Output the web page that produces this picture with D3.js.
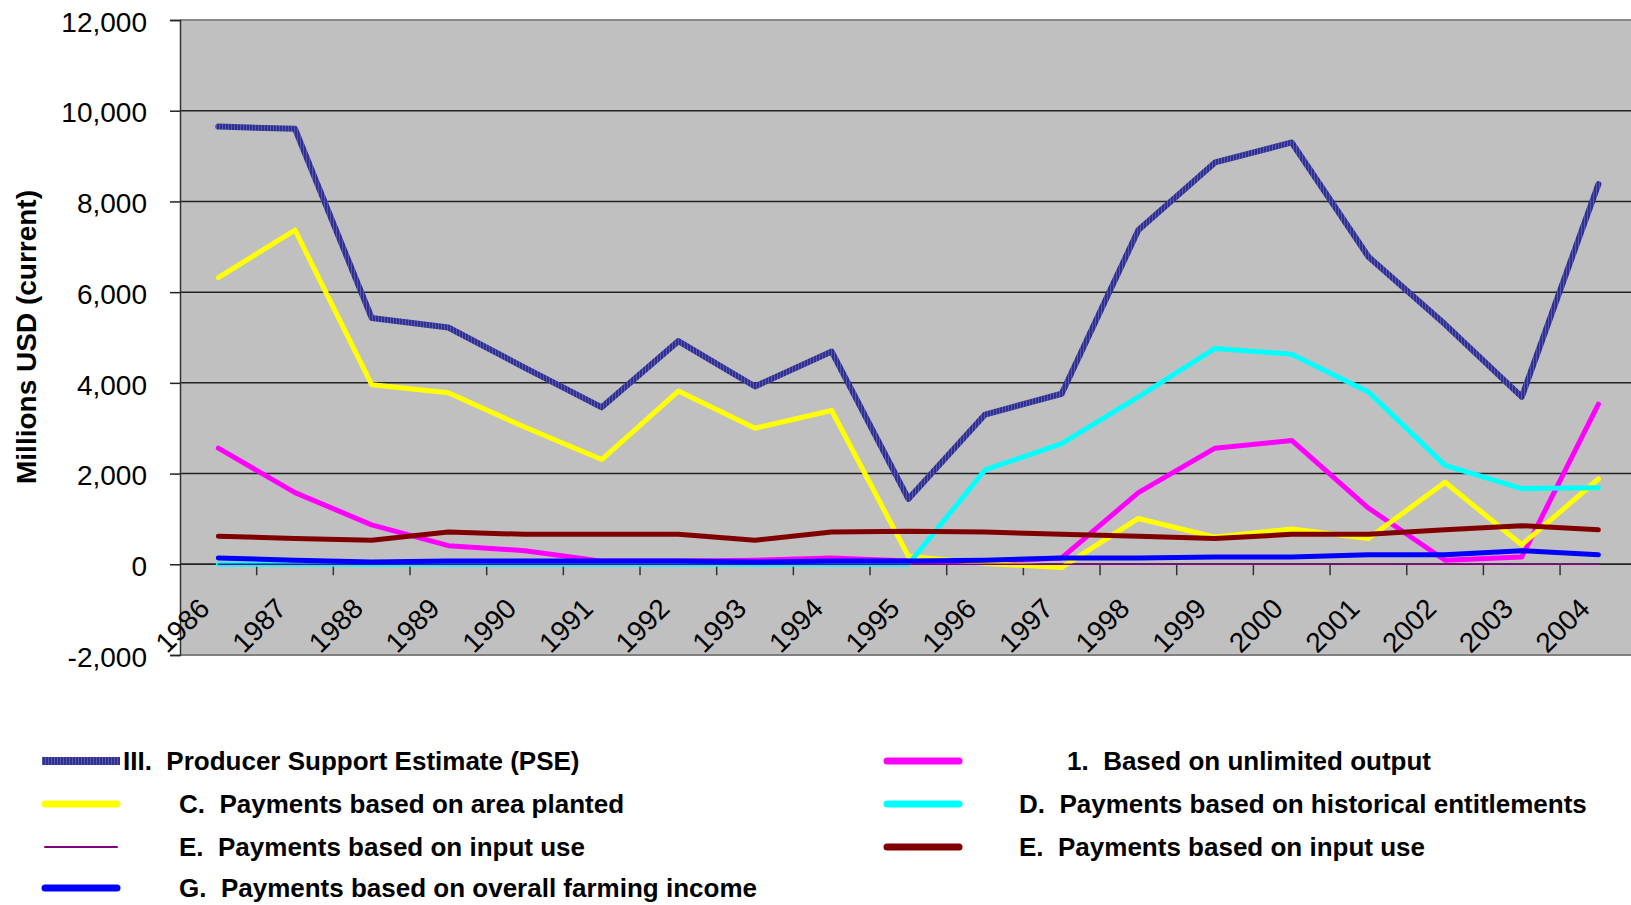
<!DOCTYPE html>
<html>
<head>
<meta charset="utf-8">
<script src="https://cdn.jsdelivr.net/npm/d3@7/dist/d3.min.js"></script>
<style>
  body { margin: 0; background: #ffffff; }
  text { font-family: "Liberation Sans", Arial, sans-serif; }
</style>
</head>
<body>
<div class="main"></div>
<script>
// categories
let years = ["1986","1987","1988","1989","1990","1991","1992","1993","1994","1995",
             "1996","1997","1998","1999","2000","2001","2002","2003","2004"];

// series values, millions USD
let pse       = [9650, 9600, 5430, 5220, 4330, 3460, 4920, 3920, 4690, 1440,
                 3300, 3760, 7370, 8860, 9300, 6780, 5290, 3690, 8380];
let unlimited = [2560, 1580, 870, 410, 300, 70, 70, 90, 140, 70,
                 50, 140, 1580, 2560, 2730, 1240, 90, 160, 3530];
let areaPlanted = [6320, 7370, 3960, 3780, 3020, 2310, 3820, 3000, 3390, 180,
                   20, -70, 1010, 600, 780, 570, 1810, 430, 1880];
let historical = [0, 0, 0, 0, 0, 0, 0, 0, 0, 0,
                  2080, 2660, 3690, 4760, 4630, 3800, 2180, 1670, 1690];
let inputUseA  = [0, 0, 0, 0, 0, 0, 0, 0, 0, 0,
                  0, 0, 0, 0, 0, 0, 0, 0, 0];
let inputUseB  = [620, 570, 530, 710, 660, 660, 660, 530, 710, 730,
                  710, 660, 620, 570, 660, 660, 760, 850, 760];
let farmIncome = [140, 90, 50, 70, 70, 70, 70, 50, 70, 70,
                  90, 140, 140, 160, 160, 210, 210, 300, 210];

// y tick values
let yTicks = [-2000, 0, 2000, 4000, 6000, 8000, 10000, 12000];

let seriesNames = [
  "III.  Producer Support Estimate (PSE)",
  "1.  Based on unlimited output",
  "C.  Payments based on area planted",
  "D.  Payments based on historical entitlements",
  "E.  Payments based on input use",
  "E.  Payments based on input use",
  "G.  Payments based on overall farming income"
];

let width = 1631, height = 905;

let svg = d3.select("div.main").append("svg")
  .attr("width", width)
  .attr("height", height);

// PSE line texture
let defs = svg.append("defs");
let pat = defs.append("pattern")
  .attr("id", "pseTex")
  .attr("patternUnits", "userSpaceOnUse")
  .attr("width", 3)
  .attr("height", 3);
pat.append("rect").attr("width", 3).attr("height", 3).attr("fill", "#30308f");
pat.append("rect").attr("width", 1).attr("height", 3).attr("fill", "#5656b4");

let plotLeft = 180, plotTop = 20, plotBottom = 655;
let step = 76.67;
let plotRight = plotLeft + step * years.length;

defs.append("clipPath").attr("id", "plotClip")
  .append("rect")
  .attr("x", plotLeft).attr("y", plotTop)
  .attr("width", plotRight - plotLeft).attr("height", plotBottom - plotTop);

let x = d3.scaleBand().domain(years).range([plotLeft, plotRight]).padding(0);
let y = d3.scaleLinear().domain([-2000, 12000]).range([plotBottom, plotTop]);
let cx = function(d) { return x(d) + x.bandwidth() / 2; };

// plot area
svg.append("rect")
  .attr("x", plotLeft).attr("y", plotTop)
  .attr("width", plotRight - plotLeft).attr("height", plotBottom - plotTop)
  .attr("fill", "#c0c0c0");

// gridlines
svg.selectAll("line.grid")
  .data(yTicks.filter(function(t) { return t > -2000 && t < 12000; }))
  .enter().append("line")
  .attr("class", "grid")
  .attr("x1", plotLeft).attr("x2", plotRight)
  .attr("y1", function(d) { return y(d); })
  .attr("y2", function(d) { return y(d); })
  .attr("stroke", "#222")
  .attr("stroke-width", 1.5);

// top and bottom border
svg.append("line")
  .attr("x1", plotLeft).attr("x2", plotRight)
  .attr("y1", y(12000)).attr("y2", y(12000))
  .attr("stroke", "#8a8a8a").attr("stroke-width", 2);
svg.append("line")
  .attr("x1", plotLeft).attr("x2", plotRight)
  .attr("y1", y(-2000)).attr("y2", y(-2000))
  .attr("stroke", "#808080").attr("stroke-width", 2);

// y axis (plain hyphen for negatives, as in the original)
let fmt = d3.format(",");
let yAxis = d3.axisLeft(y)
  .tickValues(yTicks)
  .tickSize(10)
  .tickPadding(23)
  .tickFormat(function(d) { return fmt(d).replace("\u2212", "-"); });
let yg = svg.append("g")
  .attr("transform", "translate(" + plotLeft + ",0)")
  .call(yAxis);
yg.select(".domain").attr("stroke", "#333").attr("stroke-width", 1.5);
yg.selectAll(".tick line").attr("stroke", "#222").attr("stroke-width", 1.5);
yg.selectAll(".tick text")
  .attr("font-size", "28px")
  .attr("font-family", "Liberation Sans, Arial, sans-serif")
  .attr("fill", "#000")
  .attr("dy", "0.4em");

// x axis at zero
svg.append("line")
  .attr("x1", plotLeft).attr("x2", plotRight)
  .attr("y1", y(0)).attr("y2", y(0))
  .attr("stroke", "#222").attr("stroke-width", 1.5);
svg.selectAll("line.xtick")
  .data(years)
  .enter().append("line")
  .attr("class", "xtick")
  .attr("x1", function(d) { return x(d) + x.bandwidth(); })
  .attr("x2", function(d) { return x(d) + x.bandwidth(); })
  .attr("y1", y(0)).attr("y2", y(0) + 11)
  .attr("stroke", "#333").attr("stroke-width", 1.5);

svg.selectAll("text.xlab")
  .data(years)
  .enter().append("text")
  .attr("class", "xlab")
  .attr("text-anchor", "end")
  .attr("font-size", "28px")
  .attr("transform", function(d) {
    return "translate(" + (cx(d) - 7) + "," + (y(0) + 46) + ")rotate(-45)";
  })
  .text(function(d) { return d; });

// y axis title
svg.append("text")
  .attr("transform", "translate(36,337)rotate(-90)")
  .attr("text-anchor", "middle")
  .attr("font-size", "28px")
  .attr("font-weight", "bold")
  .text("Millions USD (current)");

// series, drawn in legend order so later ones lie on top
let series = [
  { name: seriesNames[0], values: pse,         color: "url(#pseTex)", w: 6 },
  { name: seriesNames[1], values: unlimited,   color: "#ff00ff", w: 5 },
  { name: seriesNames[2], values: areaPlanted, color: "#ffff00", w: 5 },
  { name: seriesNames[3], values: historical,  color: "#00ffff", w: 5 },
  { name: seriesNames[4], values: inputUseA,   color: "#800080", w: 1.5 },
  { name: seriesNames[5], values: inputUseB,   color: "#800000", w: 5 },
  { name: seriesNames[6], values: farmIncome,  color: "#0000ff", w: 5 }
];

let line = d3.line()
  .x(function(d, i) { return cx(years[i]); })
  .y(function(d) { return y(d); });

let lines = svg.append("g").attr("clip-path", "url(#plotClip)");
series.forEach(function(s) {
  lines.append("path")
    .attr("d", line(s.values))
    .attr("fill", "none")
    .attr("stroke", s.color)
    .attr("stroke-width", s.w)
    .attr("stroke-linejoin", "round")
    .attr("stroke-linecap", "round");
});

// legend: left column PSE, C, E, G; right column 1, D, E
let legendRows = [761, 804, 847, 888];
let legendLayout = [
  { s: 0, lx: 42,  tx: 123,  row: 0 },
  { s: 1, lx: 884, tx: 1067, row: 0 },
  { s: 2, lx: 42,  tx: 179,  row: 1 },
  { s: 3, lx: 884, tx: 1019, row: 1 },
  { s: 4, lx: 42,  tx: 179,  row: 2 },
  { s: 5, lx: 884, tx: 1019, row: 2 },
  { s: 6, lx: 42,  tx: 179,  row: 3 }
];

let legend = svg.append("g");
legendLayout.forEach(function(l) {
  let s = series[l.s];
  let ly = legendRows[l.row];
  if (l.s === 0) {
    legend.append("rect")
      .attr("x", l.lx).attr("y", ly - 4)
      .attr("width", 78).attr("height", 8)
      .attr("fill", "url(#pseTex)");
  } else {
    legend.append("line")
      .attr("x1", l.lx + 3).attr("x2", l.lx + 75)
      .attr("y1", ly).attr("y2", ly)
      .attr("stroke", s.color)
      .attr("stroke-width", s.w === 1.5 ? 2 : 7)
      .attr("stroke-linecap", "round");
  }
  legend.append("text")
    .attr("x", l.tx).attr("y", ly)
    .attr("dy", "0.35em")
    .attr("font-size", "26px")
    .attr("font-weight", "bold")
    .style("white-space", "pre")
    .text(s.name);
});
</script>
</body>
</html>
